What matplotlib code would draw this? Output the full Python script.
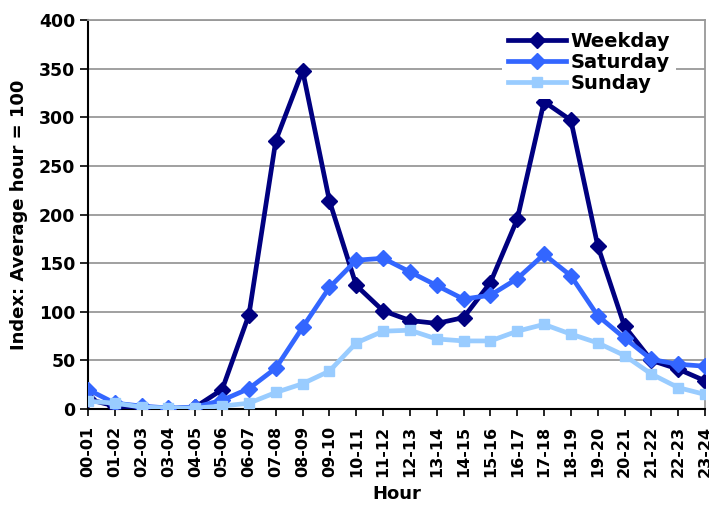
import matplotlib
matplotlib.use("Agg")
import matplotlib.pyplot as plt

hours = ["00-01", "01-02", "02-03", "03-04", "04-05", "05-06", "06-07", "07-08",
         "08-09", "09-10", "10-11", "11-12", "12-13", "13-14", "14-15", "15-16",
         "16-17", "17-18", "18-19", "19-20", "20-21", "21-22", "22-23", "23-24"]
weekday = [10, 3, 1, 0, 2, 20, 97, 276, 348, 214, 127, 101, 91, 88, 94, 130,
           195, 316, 297, 168, 85, 50, 41, 29]
saturday = [20, 6, 3, 1, 2, 9, 21, 42, 84, 125, 153, 155, 141, 127, 113, 117,
            134, 159, 137, 96, 73, 51, 46, 44]
sunday = [8, 6, 2, 1, 1, 3, 6, 17, 26, 39, 68, 80, 81, 72, 70, 70,
          80, 87, 77, 68, 55, 36, 22, 15]
y_ticks = [0, 50, 100, 150, 200, 250, 300, 350, 400]

plt.rcParams['font.family'] = ['DejaVu Sans']
plt.rcParams['font.weight'] = 'bold'

fig = plt.figure(figsize=(7.09, 5.08), dpi=100)
ax = fig.add_axes([88/709, 1-409/508, (705-88)/709, (409-20)/508])

x = list(range(len(hours)))
ax.plot(x, weekday, color='#000080', lw=3.4, marker='D', ms=8.5,
        mec='#000080', mfc='#000080', label='Weekday', zorder=3)
ax.plot(x, saturday, color='#3366FF', lw=3.4, marker='D', ms=8.5,
        mec='#3366FF', mfc='#3366FF', label='Saturday', zorder=4)
ax.plot(x, sunday, color='#99CCFF', lw=3.4, marker='s', ms=7.5,
        mec='#99CCFF', mfc='#99CCFF', label='Sunday', zorder=5)

ax.set_xlim(0, 23)
ax.set_ylim(0, 400)
ax.set_yticks(y_ticks)
ax.set_xticks(x)
ax.set_xticklabels(hours, rotation=90, fontsize=11.5, fontweight='bold')
ax.tick_params(axis='y', labelsize=12.5, length=6, width=1.2, direction='out', pad=3)
ax.tick_params(axis='x', length=5, width=1.2, direction='out', pad=7)
for lbl in ax.get_yticklabels():
    lbl.set_fontweight('bold')

ax.grid(axis='y', color='#999999', lw=1.3, zorder=0)
ax.set_axisbelow(True)
for s in ['top', 'right']:
    ax.spines[s].set_color('#999999')
    ax.spines[s].set_linewidth(1.3)
for s in ['left', 'bottom']:
    ax.spines[s].set_color('black')
    ax.spines[s].set_linewidth(1.5)

ax.set_ylabel("Index: Average hour = 100", fontsize=13, fontweight='bold', labelpad=8)
ax.set_xlabel("Hour", fontsize=13, fontweight='bold', labelpad=6)

leg = ax.legend(loc='upper left', bbox_to_anchor=(492/709, 1-16/508),
                bbox_transform=fig.transFigure, frameon=True,
                fontsize=14, handlelength=3.0, handletextpad=0.25, labelspacing=0.12,
                borderpad=0.3, fancybox=False, framealpha=1)
leg.get_frame().set_edgecolor('white')
leg.get_frame().set_linewidth(0)
for t in leg.get_texts():
    t.set_fontweight('bold')

fig.savefig("out.png", dpi=100)
